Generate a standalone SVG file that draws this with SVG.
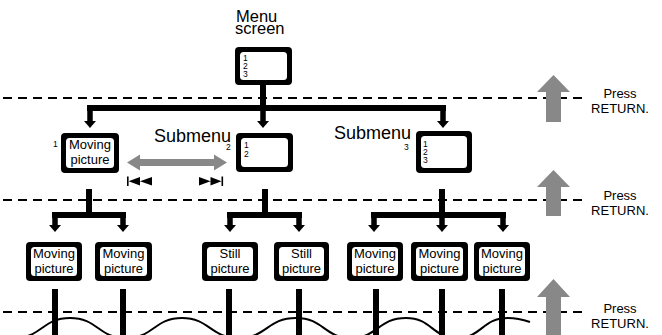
<svg xmlns="http://www.w3.org/2000/svg" width="662" height="335" viewBox="0 0 662 335">
<defs>
<style>
text{font-family:"Liberation Sans",Arial,Helvetica,sans-serif;fill:#000}
.frame{fill:#000}
.scr{fill:#fff}
.bt{font-size:13px;text-anchor:middle}
.it{font-size:8.5px}
.sub{font-size:8.5px}
.big{font-size:16.5px}
.sm{font-size:18px}
.pr{font-size:13px;text-anchor:middle}
.dash{stroke:#000;stroke-width:2;stroke-dasharray:9 6;fill:none}
.ln{stroke:#000;stroke-width:6;fill:none}
.bar{stroke:#000;stroke-width:6;fill:none;stroke-linecap:square}
.arr{stroke:#000;stroke-width:5.5;fill:none;marker-end:url(#ah)}
.gray{fill:#888}
.wave{stroke:#000;stroke-width:2;fill:none}
</style>
<marker id="ah" markerUnits="userSpaceOnUse" markerWidth="9" markerHeight="14" viewBox="0 -7 9 14" refX="0.5" refY="0" orient="auto" overflow="visible">
<path d="M0,-6 L7,0 L0,6 Z" fill="#000"/>
</marker>
</defs>
<rect width="662" height="335" fill="#fff"/>

<!-- dashed lines -->
<g id="dashes">
<line class="dash" x1="3" y1="98" x2="582" y2="98"/>
<line class="dash" x1="3" y1="200" x2="582" y2="200"/>
<line class="dash" x1="3" y1="312" x2="582" y2="312"/>
</g>

<!-- wave -->
<path class="wave" d="M14 338 C42 338 42 318 70 318 C98 318 98 338 126 338 C154 338 154 318 182 318 C210 318 210 338 239 338 C267 338 267 318 296 318 C324 318 324 338 351 338 C378 338 378 318 406 318 C432 318 432 338 457 338 C482 338 482 318 508 318 C518 318 524 320 530 322"/>

<!-- connectors -->
<g id="connectors">
<line class="ln" x1="263" y1="85" x2="263" y2="108"/>
<line class="bar" x1="90" y1="108" x2="443" y2="108"/>
<path class="arr" d="M90 108 V121.5"/>
<path class="arr" d="M263 108 V121.5"/>
<path class="arr" d="M443 108 V121.5"/>

<line class="ln" x1="89" y1="189" x2="89" y2="215"/>
<line class="bar" x1="55" y1="215" x2="123" y2="215"/>
<path class="arr" d="M55 215 V225.5"/>
<path class="arr" d="M123 215 V225.5"/>

<line class="ln" x1="265" y1="189" x2="265" y2="215"/>
<line class="bar" x1="230" y1="215" x2="299" y2="215"/>
<path class="arr" d="M230 215 V225.5"/>
<path class="arr" d="M299 215 V225.5"/>

<line class="ln" x1="442" y1="189" x2="442" y2="215"/>
<line class="bar" x1="374" y1="215" x2="503" y2="215"/>
<path class="arr" d="M374 215 V225.5"/>
<path class="arr" d="M442 215 V225.5"/>
<path class="arr" d="M503 215 V225.5"/>

<line class="ln" x1="55" y1="289" x2="55" y2="336"/>
<line class="ln" x1="123" y1="289" x2="123" y2="336"/>
<line class="ln" x1="229" y1="289" x2="229" y2="336"/>
<line class="ln" x1="299" y1="289" x2="299" y2="336"/>
<line class="ln" x1="376" y1="289" x2="376" y2="336"/>
<line class="ln" x1="442" y1="289" x2="442" y2="336"/>
<line class="ln" x1="502" y1="289" x2="502" y2="336"/>
</g>

<!-- gray double arrow and skip symbols -->
<g id="skip">
<path class="gray" d="M127 162.5 L140 154.5 L140 159 L214 159 L214 154.5 L227 162.5 L214 170.5 L214 166 L140 166 L140 170.5 Z"/>
<rect x="127" y="176.5" width="1.6" height="9.5" fill="#000"/>
<path d="M128.6 181.2 L140 177 L140 185.5 Z M140 181.2 L152 177 L152 185.5 Z" fill="#000"/>
<path d="M199 177 L210.5 181.2 L199 185.5 Z M210.5 177 L221.5 181.2 L210.5 185.5 Z" fill="#000"/>
<rect x="221.5" y="176.5" width="1.6" height="9.5" fill="#000"/>
</g>

<!-- press return arrows -->
<g id="press">
<path class="gray" d="M553.5 75 L570 92 L561 92 L561 122 L546 122 L546 92 L537 92 Z"/>
<path class="gray" d="M553.5 170 L570 187 L561 187 L561 216 L546 216 L546 187 L537 187 Z"/>
<path class="gray" d="M553.5 279 L570 297 L561 297 L561 336 L546 336 L546 297 L537 297 Z"/>
<text class="pr" x="620" y="98">Press</text>
<text class="pr" x="620" y="113">RETURN.</text>
<text class="pr" x="620" y="200">Press</text>
<text class="pr" x="620" y="215">RETURN.</text>
<text class="pr" x="620" y="313">Press</text>
<text class="pr" x="620" y="328">RETURN.</text>
</g>

<!-- nodes -->
<g id="menu">
<text class="big" x="236" y="21.5">Menu</text>
<text class="big" x="235" y="34">screen</text>
<rect class="frame" x="235" y="47" width="57" height="38" rx="4"/>
<rect class="scr" x="240" y="52" width="47" height="28" rx="3.5"/>
<text class="it" x="243" y="61">1</text>
<text class="it" x="243" y="69">2</text>
<text class="it" x="243" y="77">3</text>
</g>

<g id="sub1">
<text class="sub" x="53" y="147">1</text>
<rect class="frame" x="61" y="133" width="58" height="40" rx="4"/>
<rect class="scr" x="66" y="138" width="48" height="30" rx="3.5"/>
<text class="bt" x="90" y="149">Moving</text>
<text class="bt" x="90" y="164">picture</text>
</g>

<g id="sub2">
<text class="sm" x="154" y="142">Submenu</text>
<text class="sub" x="226" y="150">2</text>
<rect class="frame" x="236" y="133" width="57" height="39" rx="4"/>
<rect class="scr" x="241" y="138" width="47" height="29" rx="3.5"/>
<text class="it" x="244" y="148">1</text>
<text class="it" x="244" y="157">2</text>
</g>

<g id="sub3">
<text class="sm" x="334" y="139">Submenu</text>
<text class="sub" x="404" y="150">3</text>
<rect class="frame" x="416" y="131" width="56" height="42" rx="4"/>
<rect class="scr" x="421" y="136" width="46" height="32" rx="3.5"/>
<text class="it" x="423" y="147">1</text>
<text class="it" x="423" y="155">2</text>
<text class="it" x="423" y="163">3</text>
</g>

<g id="leaf1">
<rect class="frame" x="26" y="242" width="56" height="39" rx="4"/>
<rect class="scr" x="31" y="247" width="46" height="29" rx="3.5"/>
<text class="bt" x="54" y="258">Moving</text>
<text class="bt" x="54" y="273">picture</text>
</g>
<g id="leaf2">
<rect class="frame" x="95" y="242" width="57" height="39" rx="4"/>
<rect class="scr" x="100" y="247" width="47" height="29" rx="3.5"/>
<text class="bt" x="123.5" y="258">Moving</text>
<text class="bt" x="123.5" y="273">picture</text>
</g>
<g id="leaf3">
<rect class="frame" x="202" y="242" width="56" height="39" rx="4"/>
<rect class="scr" x="207" y="247" width="46" height="29" rx="3.5"/>
<text class="bt" x="230" y="258">Still</text>
<text class="bt" x="230" y="273">picture</text>
</g>
<g id="leaf4">
<rect class="frame" x="274" y="242" width="55" height="39" rx="4"/>
<rect class="scr" x="279" y="247" width="45" height="29" rx="3.5"/>
<text class="bt" x="301.5" y="258">Still</text>
<text class="bt" x="301.5" y="273">picture</text>
</g>
<g id="leaf5">
<rect class="frame" x="347" y="242" width="56" height="39" rx="4"/>
<rect class="scr" x="352" y="247" width="46" height="29" rx="3.5"/>
<text class="bt" x="375" y="258">Moving</text>
<text class="bt" x="375" y="273">picture</text>
</g>
<g id="leaf6">
<rect class="frame" x="411" y="242" width="57" height="39" rx="4"/>
<rect class="scr" x="416" y="247" width="47" height="29" rx="3.5"/>
<text class="bt" x="439.5" y="258">Moving</text>
<text class="bt" x="439.5" y="273">picture</text>
</g>
<g id="leaf7">
<rect class="frame" x="474" y="242" width="56" height="39" rx="4"/>
<rect class="scr" x="479" y="247" width="46" height="29" rx="3.5"/>
<text class="bt" x="502" y="258">Moving</text>
<text class="bt" x="502" y="273">picture</text>
</g>
</svg>
